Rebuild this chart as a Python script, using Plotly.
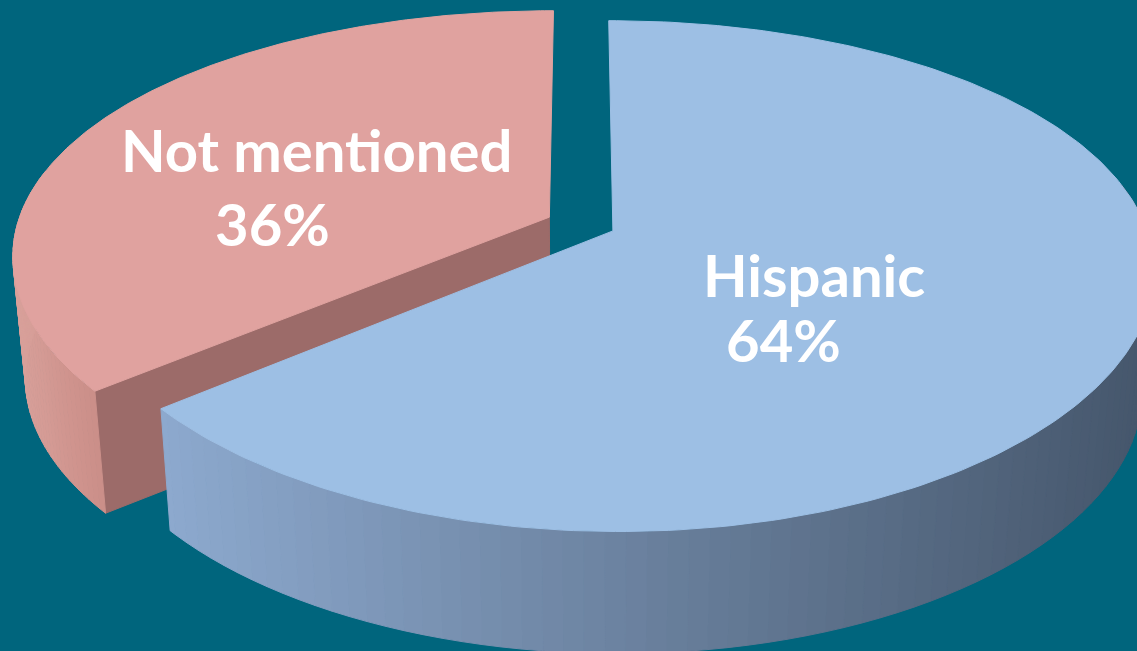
import numpy as np
import plotly.graph_objects as go

# ---- data ----
labels = ["Hispanic", "Not mentioned"]
values = [64, 36]

# ---- styles ----
top_colors = ["#9DBFE4", "#E0A29F"]
side_light = ["#8DA9CE", "#D8A09A"]
side_dark = ["#45566B", "#CB8E88"]
cut_colors = ["#5F7896", "#9C6B69"]
BG = "#00657D"

W, H = 1137, 651
OX, OY = 581, 224          # projected pie centre
A, B = 532, 245            # horizontal / vertical scale
KX, KY = 0.15, 0.176       # perspective factors
DEPTH = 122
SHRINK = 0.978
EXPLODE = 0.066


def proj(X, Z, bottom=False):
    X = np.asarray(X, float)
    Z = np.asarray(Z, float)
    sx = OX + A * X / (1 + KX * Z)
    sy = OY - B * Z / (1 + KY * Z)
    if bottom:
        sx = OX + (sx - OX) * SHRINK
        sy = sy + DEPTH
    return sx, sy


def hex2rgb(h):
    h = h.lstrip("#")
    return np.array([int(h[i:i + 2], 16) for i in (0, 2, 4)], float)


def mix(c1, c2, t):
    c = hex2rgb(c1) * (1 - t) + hex2rgb(c2) * t
    return "rgb(%d,%d,%d)" % tuple(np.round(c).astype(int))


total = float(sum(values))
slices = []
cum = 0.0
for i, v in enumerate(values):
    a0 = 90 - 360 * cum / total
    a1 = a0 - 360 * v / total
    cum += v
    mid = np.radians((a0 + a1) / 2)
    slices.append(dict(i=i, a0=a0, a1=a1, ox=EXPLODE * np.cos(mid), oz=EXPLODE * np.sin(mid)))

# far slices first
slices.sort(key=lambda s: -s["oz"])

fig = go.Figure()


def poly(xs, ys, color):
    fig.add_trace(go.Scatter(x=list(xs) + [xs[0]], y=list(ys) + [ys[0]], mode="lines",
                             fill="toself", fillcolor=color,
                             line=dict(color=color, width=1),
                             hoverinfo="skip", showlegend=False))


for s in slices:
    i = s["i"]
    th = np.radians(np.linspace(s["a0"], s["a1"], 240))
    X = s["ox"] + np.cos(th)
    Z = s["oz"] + np.sin(th)
    tx, ty = proj(X, Z)
    bx, by = proj(X, Z, bottom=True)

    # cut faces (radial sides) facing the viewer
    for edge, nrm in ((s["a0"], s["a0"] + 90), (s["a1"], s["a1"] - 90)):
        if np.sin(np.radians(nrm)) < -0.05:
            e = np.radians(edge)
            ex, ez = s["ox"] + np.cos(e), s["oz"] + np.sin(e)
            p1 = proj(s["ox"], s["oz"])
            p2 = proj(ex, ez)
            p3 = proj(ex, ez, True)
            p4 = proj(s["ox"], s["oz"], True)
            poly([p1[0], p2[0], p3[0], p4[0]], [p1[1], p2[1], p3[1], p4[1]], cut_colors[i])

    # outer side, drawn as shaded strips
    vis = np.where(np.sin(th) < 0.2)[0]
    if len(vis) > 1:
        step = 2
        idx = list(range(vis[0], vis[-1], step)) + [vis[-1]]
        xmin, xmax = tx[vis].min(), tx[vis].max()
        for j0, j1 in zip(idx[:-1], idx[1:]):
            t = ((tx[j0] + tx[j1]) / 2 - xmin) / max(xmax - xmin, 1)
            col = mix(side_light[i], side_dark[i], float(np.clip(t, 0, 1)))
            xs = list(tx[j0:j1 + 1]) + list(bx[j0:j1 + 1][::-1])
            ys = list(ty[j0:j1 + 1]) + list(by[j0:j1 + 1][::-1])
            poly(xs, ys, col)

    # top face
    ax_, ay_ = proj(s["ox"], s["oz"])
    poly([float(ax_)] + list(tx), [float(ay_)] + list(ty), top_colors[i])

# labels
label_pos = {0: ((814, 274), (783, 339)), 1: ((316, 149), (272, 223))}
font = dict(family="Lato", size=58, color="white", weight=700)
for i, (lab, v) in enumerate(zip(labels, values)):
    (x1, y1), (x2, y2) = label_pos[i]
    fig.add_annotation(x=x1, y=y1, xref="x", yref="y", text=lab, showarrow=False,
                       xanchor="center", yanchor="middle", font=font)
    fig.add_annotation(x=x2, y=y2, xref="x", yref="y", text=f"{v}%", showarrow=False,
                       xanchor="center", yanchor="middle", font=font)

fig.update_layout(
    width=W, height=H, margin=dict(l=0, r=0, t=0, b=0),
    paper_bgcolor=BG, plot_bgcolor=BG, showlegend=False,
    xaxis=dict(range=[0, W], visible=False, fixedrange=True),
    yaxis=dict(range=[H, 0], visible=False, fixedrange=True),
)
fig.write_html("out.html")
